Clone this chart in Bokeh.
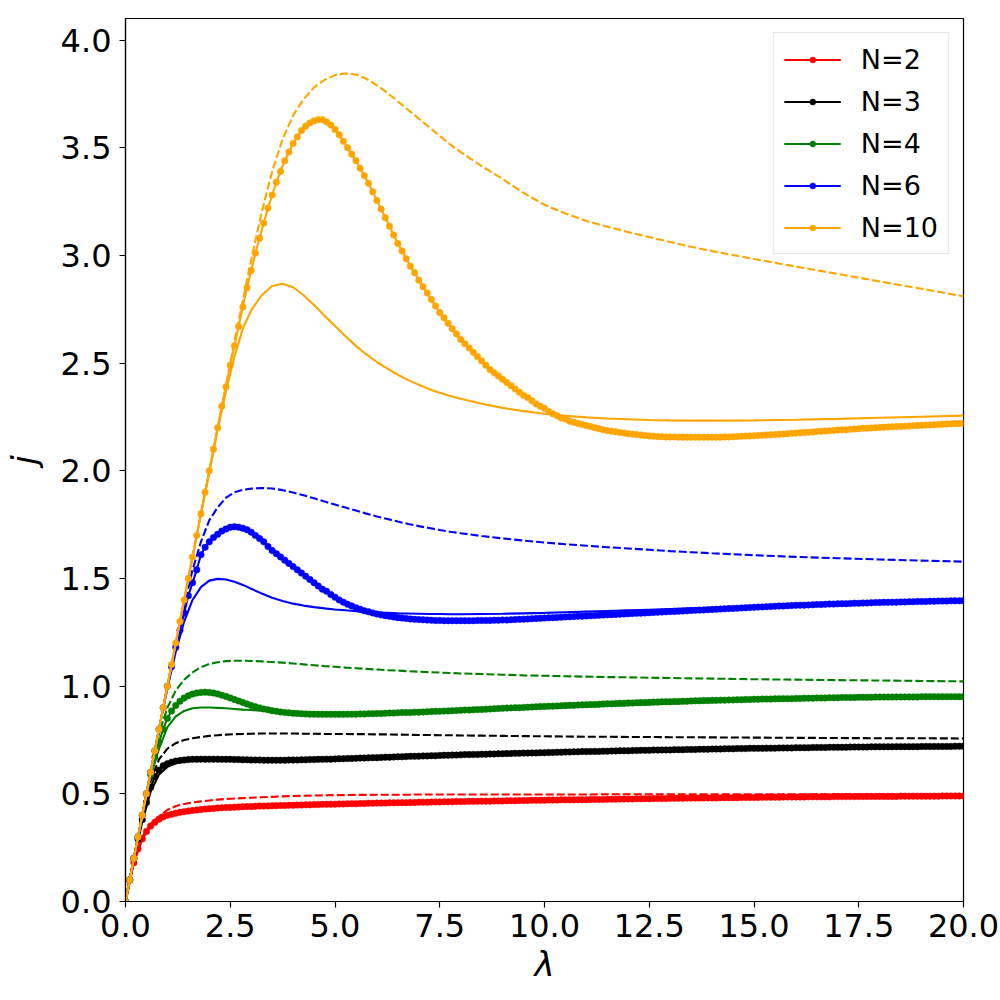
import numpy as np
from bokeh.plotting import figure
from bokeh.models import Range1d, FixedTicker, Legend, LegendItem, PrintfTickFormatter
from bokeh.embed import file_html
from bokeh.resources import INLINE

# ---------------- data ----------------
# sampled points (markers), lambda = 0.0 .. 20.0 step 0.1
LAM_PTS = [round(i * 0.1, 1) for i in range(201)]

J_PTS_N2 = [
    0.00, 0.10, 0.18, 0.245, 0.29, 0.325, 0.35, 0.368, 0.382, 0.393,
    0.40, 0.405, 0.41, 0.414, 0.417, 0.42, 0.423, 0.425, 0.427, 0.429,
    0.431, 0.432, 0.434, 0.435, 0.436, 0.437, 0.438, 0.439, 0.44, 0.441,
    0.441, 0.442, 0.443, 0.443, 0.444, 0.445, 0.445, 0.446, 0.446, 0.447,
    0.447, 0.448, 0.448, 0.449, 0.449, 0.45, 0.45, 0.451, 0.451, 0.452,
    0.452, 0.453, 0.453, 0.454, 0.454, 0.454, 0.455, 0.455, 0.456, 0.456,
    0.457, 0.457, 0.457, 0.458, 0.458, 0.459, 0.459, 0.459, 0.46, 0.46,
    0.461, 0.461, 0.461, 0.462, 0.462, 0.462, 0.463, 0.463, 0.463, 0.464,
    0.464, 0.464, 0.465, 0.465, 0.465, 0.466, 0.466, 0.466, 0.467, 0.467,
    0.467, 0.468, 0.468, 0.468, 0.469, 0.469, 0.469, 0.47, 0.47, 0.47,
    0.47, 0.471, 0.471, 0.471, 0.472, 0.472, 0.472, 0.472, 0.473, 0.473,
    0.473, 0.474, 0.474, 0.474, 0.474, 0.475, 0.475, 0.475, 0.476, 0.476,
    0.476, 0.476, 0.477, 0.477, 0.477, 0.477, 0.478, 0.478, 0.478, 0.478,
    0.479, 0.479, 0.479, 0.479, 0.48, 0.48, 0.48, 0.48, 0.481, 0.481,
    0.481, 0.481, 0.482, 0.482, 0.482, 0.482, 0.482, 0.483, 0.483, 0.483,
    0.483, 0.483, 0.484, 0.484, 0.484, 0.484, 0.484, 0.485, 0.485, 0.485,
    0.485, 0.485, 0.485, 0.486, 0.486, 0.486, 0.486, 0.486, 0.486, 0.487,
    0.487, 0.487, 0.487, 0.487, 0.487, 0.487, 0.488, 0.488, 0.488, 0.488,
    0.488, 0.488, 0.488, 0.488, 0.488, 0.489, 0.489, 0.489, 0.489, 0.489,
    0.489, 0.489, 0.489, 0.489, 0.489, 0.49, 0.49, 0.49, 0.49, 0.49,
    0.49,
]

J_PTS_N3 = [
    0.00, 0.10, 0.20, 0.29, 0.38, 0.46, 0.53, 0.58, 0.61, 0.63,
    0.64, 0.647, 0.652, 0.655, 0.657, 0.659, 0.66, 0.66, 0.661, 0.661,
    0.661, 0.661, 0.661, 0.66, 0.66, 0.66, 0.659, 0.659, 0.658, 0.658,
    0.657, 0.657, 0.657, 0.656, 0.656, 0.656, 0.656, 0.656, 0.656, 0.657,
    0.657, 0.657, 0.658, 0.658, 0.659, 0.659, 0.66, 0.66, 0.661, 0.661,
    0.662, 0.663, 0.663, 0.664, 0.664, 0.665, 0.666, 0.666, 0.667, 0.668,
    0.668, 0.669, 0.67, 0.67, 0.671, 0.672, 0.672, 0.673, 0.674, 0.674,
    0.675, 0.676, 0.676, 0.677, 0.677, 0.678, 0.679, 0.679, 0.68, 0.68,
    0.681, 0.682, 0.682, 0.683, 0.683, 0.684, 0.684, 0.685, 0.685, 0.686,
    0.686, 0.687, 0.687, 0.688, 0.688, 0.689, 0.689, 0.69, 0.69, 0.691,
    0.691, 0.692, 0.692, 0.693, 0.693, 0.694, 0.694, 0.695, 0.695, 0.696,
    0.696, 0.697, 0.697, 0.697, 0.698, 0.698, 0.699, 0.699, 0.7, 0.7,
    0.7, 0.701, 0.701, 0.702, 0.702, 0.702, 0.703, 0.703, 0.704, 0.704,
    0.704, 0.705, 0.705, 0.705, 0.706, 0.706, 0.706, 0.707, 0.707, 0.707,
    0.708, 0.708, 0.708, 0.709, 0.709, 0.709, 0.71, 0.71, 0.71, 0.711,
    0.711, 0.711, 0.711, 0.712, 0.712, 0.712, 0.713, 0.713, 0.713, 0.713,
    0.714, 0.714, 0.714, 0.714, 0.715, 0.715, 0.715, 0.715, 0.716, 0.716,
    0.716, 0.716, 0.716, 0.717, 0.717, 0.717, 0.717, 0.717, 0.718, 0.718,
    0.718, 0.718, 0.718, 0.718, 0.719, 0.719, 0.719, 0.719, 0.719, 0.719,
    0.72, 0.72, 0.72, 0.72, 0.72, 0.72, 0.72, 0.72, 0.721, 0.721,
    0.721,
]

J_PTS_N4 = [
    0.00, 0.10, 0.20, 0.30, 0.40, 0.50, 0.59, 0.67, 0.74, 0.80,
    0.85, 0.885, 0.91, 0.93, 0.945, 0.955, 0.963, 0.968, 0.971, 0.972,
    0.971, 0.968, 0.964, 0.958, 0.952, 0.945, 0.938, 0.931, 0.924, 0.917,
    0.91, 0.904, 0.899, 0.894, 0.89, 0.886, 0.883, 0.88, 0.878, 0.876,
    0.874, 0.873, 0.872, 0.871, 0.87, 0.87, 0.869, 0.869, 0.869, 0.869,
    0.869, 0.869, 0.869, 0.87, 0.87, 0.87, 0.871, 0.871, 0.872, 0.872,
    0.873, 0.873, 0.874, 0.875, 0.875, 0.876, 0.877, 0.877, 0.878, 0.879,
    0.879, 0.88, 0.881, 0.882, 0.883, 0.883, 0.884, 0.885, 0.886, 0.887,
    0.888, 0.889, 0.889, 0.89, 0.891, 0.892, 0.893, 0.894, 0.895, 0.896,
    0.897, 0.898, 0.899, 0.9, 0.9, 0.901, 0.902, 0.903, 0.904, 0.905,
    0.906, 0.907, 0.907, 0.908, 0.909, 0.91, 0.911, 0.911, 0.912, 0.913,
    0.914, 0.915, 0.915, 0.916, 0.917, 0.918, 0.918, 0.919, 0.92, 0.921,
    0.922, 0.922, 0.923, 0.924, 0.924, 0.925, 0.926, 0.926, 0.927, 0.928,
    0.928, 0.929, 0.929, 0.93, 0.93, 0.931, 0.932, 0.932, 0.933, 0.933,
    0.934, 0.934, 0.935, 0.935, 0.936, 0.936, 0.937, 0.937, 0.938, 0.938,
    0.939, 0.939, 0.94, 0.94, 0.94, 0.941, 0.941, 0.942, 0.942, 0.942,
    0.943, 0.943, 0.944, 0.944, 0.944, 0.945, 0.945, 0.945, 0.946, 0.946,
    0.946, 0.947, 0.947, 0.947, 0.947, 0.948, 0.948, 0.948, 0.948, 0.949,
    0.949, 0.949, 0.949, 0.949, 0.95, 0.95, 0.95, 0.95, 0.95, 0.95,
    0.951, 0.951, 0.951, 0.951, 0.951, 0.951, 0.951, 0.951, 0.951, 0.951,
    0.951,
]

J_PTS_N6 = [
    0.00, 0.10, 0.20, 0.30, 0.40, 0.50, 0.60, 0.70, 0.80, 0.90,
    1.00, 1.09, 1.18, 1.26, 1.34, 1.42, 1.48, 1.54, 1.61, 1.645,
    1.67, 1.69, 1.705, 1.72, 1.73, 1.738, 1.74, 1.738, 1.733, 1.726,
    1.715, 1.70, 1.685, 1.67, 1.648, 1.63, 1.615, 1.60, 1.585, 1.57,
    1.555, 1.54, 1.525, 1.51, 1.495, 1.48, 1.465, 1.45, 1.44, 1.425,
    1.413, 1.40, 1.39, 1.38, 1.372, 1.364, 1.357, 1.35, 1.345, 1.34,
    1.335, 1.331, 1.327, 1.324, 1.321, 1.318, 1.316, 1.314, 1.312, 1.31,
    1.309, 1.308, 1.307, 1.306, 1.305, 1.305, 1.304, 1.304, 1.304, 1.304,
    1.304, 1.304, 1.304, 1.304, 1.305, 1.305, 1.305, 1.305, 1.306, 1.306,
    1.307, 1.307, 1.308, 1.309, 1.31, 1.311, 1.312, 1.313, 1.314, 1.315,
    1.316, 1.317, 1.318, 1.319, 1.32, 1.321, 1.322, 1.323, 1.324, 1.325,
    1.326, 1.327, 1.328, 1.329, 1.33, 1.331, 1.332, 1.333, 1.334, 1.335,
    1.336, 1.337, 1.338, 1.339, 1.34, 1.341, 1.342, 1.343, 1.344, 1.345,
    1.346, 1.347, 1.348, 1.349, 1.35, 1.351, 1.352, 1.353, 1.354, 1.355,
    1.356, 1.357, 1.358, 1.359, 1.36, 1.361, 1.362, 1.363, 1.364, 1.365,
    1.366, 1.367, 1.368, 1.369, 1.37, 1.371, 1.372, 1.372, 1.373, 1.374,
    1.375, 1.376, 1.376, 1.377, 1.378, 1.379, 1.379, 1.38, 1.381, 1.381,
    1.382, 1.383, 1.383, 1.384, 1.385, 1.385, 1.386, 1.386, 1.387, 1.388,
    1.388, 1.389, 1.389, 1.39, 1.39, 1.391, 1.391, 1.392, 1.392, 1.393,
    1.393, 1.393, 1.394, 1.394, 1.395, 1.395, 1.395, 1.396, 1.396, 1.396,
    1.397,
]

J_PTS_N10 = [
    0.00, 0.10, 0.20, 0.30, 0.40, 0.50, 0.60, 0.70, 0.80, 0.90,
    1.00, 1.10, 1.20, 1.30, 1.40, 1.50, 1.60, 1.70, 1.80, 1.90,
    2.00, 2.10, 2.20, 2.30, 2.39, 2.49, 2.58, 2.67, 2.76, 2.85,
    2.93, 3.01, 3.08, 3.15, 3.22, 3.28, 3.34, 3.39, 3.44, 3.48,
    3.52, 3.55, 3.58, 3.60, 3.615, 3.625, 3.63, 3.63, 3.62, 3.605,
    3.585, 3.56, 3.53, 3.50, 3.47, 3.44, 3.405, 3.37, 3.335, 3.295,
    3.255, 3.215, 3.175, 3.135, 3.095, 3.055, 3.02, 2.985, 2.95, 2.92,
    2.885, 2.855, 2.825, 2.795, 2.765, 2.735, 2.71, 2.685, 2.66, 2.635,
    2.61, 2.59, 2.57, 2.55, 2.53, 2.51, 2.49, 2.47, 2.455, 2.44,
    2.425, 2.41, 2.395, 2.38, 2.365, 2.35, 2.34, 2.325, 2.31, 2.30,
    2.29, 2.275, 2.265, 2.255, 2.245, 2.24, 2.23, 2.225, 2.22, 2.215,
    2.21, 2.205, 2.20, 2.195, 2.19, 2.187, 2.184, 2.181, 2.178, 2.175,
    2.172, 2.17, 2.168, 2.166, 2.164, 2.162, 2.16, 2.159, 2.158, 2.157,
    2.157, 2.157, 2.156, 2.156, 2.156, 2.156, 2.156, 2.156, 2.156, 2.156,
    2.156, 2.156, 2.156, 2.157, 2.157, 2.158, 2.159, 2.16, 2.161, 2.162,
    2.163, 2.164, 2.165, 2.166, 2.167, 2.168, 2.17, 2.171, 2.172, 2.174,
    2.175, 2.176, 2.178, 2.179, 2.18, 2.182, 2.183, 2.185, 2.186, 2.187,
    2.189, 2.19, 2.191, 2.193, 2.194, 2.195, 2.197, 2.198, 2.199, 2.2,
    2.201, 2.202, 2.203, 2.204, 2.205, 2.206, 2.207, 2.208, 2.209, 2.21,
    2.211, 2.212, 2.213, 2.214, 2.215, 2.216, 2.217, 2.218, 2.219, 2.22,
    2.221,
]

# smooth curves (solid and dashed approximations), sampled in lambda
LAM_CURVE = [0, 0.2, 0.4, 0.6, 0.8, 1.0, 1.2, 1.4, 1.6, 1.8, 2.0, 2.2, 2.4, 2.6, 2.8, 3.0,
             3.25, 3.5, 3.75, 4.0, 4.25, 4.5, 4.75, 5.0, 5.25, 5.5, 5.75, 6.0, 6.25, 6.5,
             6.75, 7.0, 7.25, 7.5, 7.75, 8.0,
             8.5, 9.0, 9.5, 10, 10.5, 11, 11.5, 12, 12.5, 13, 13.5, 14,
             15, 16, 17, 18, 19, 20]

J_SOLID_N2 = [0, 0.18, 0.29, 0.35, 0.382, 0.40, 0.41, 0.417, 0.423, 0.427, 0.431, 0.434, 0.436, 0.438, 0.44, 0.441,
              0.443, 0.445, 0.446, 0.447, 0.448, 0.45, 0.451, 0.452, 0.453, 0.454, 0.455, 0.457, 0.458, 0.459,
              0.46, 0.461, 0.461, 0.462, 0.463, 0.464,
              0.466, 0.467, 0.469, 0.47, 0.472, 0.473, 0.475, 0.476, 0.478, 0.479, 0.48, 0.481,
              0.483, 0.485, 0.487, 0.488, 0.489, 0.49]
J_DASH_N2 = [0, 0.19, 0.30, 0.36, 0.395, 0.425, 0.443, 0.453, 0.46, 0.465, 0.469, 0.473, 0.476, 0.478, 0.48, 0.482,
             0.484, 0.486, 0.488, 0.49, 0.491, 0.492, 0.493, 0.494, 0.494, 0.495, 0.495, 0.496, 0.496, 0.496,
             0.496, 0.497, 0.497, 0.497, 0.497, 0.497,
             0.497, 0.497, 0.497, 0.497, 0.497, 0.497, 0.498, 0.498, 0.498, 0.498, 0.498, 0.498,
             0.498, 0.498, 0.498, 0.498, 0.498, 0.498]

J_SOLID_N3 = [0, 0.2, 0.37, 0.51, 0.59, 0.625, 0.642, 0.65, 0.654, 0.656, 0.657, 0.657, 0.657, 0.657, 0.657, 0.657,
              0.657, 0.657, 0.658, 0.658, 0.659, 0.66, 0.661, 0.662, 0.663, 0.665, 0.666, 0.668, 0.669, 0.671,
              0.672, 0.674, 0.675, 0.677, 0.678, 0.68,
              0.683, 0.686, 0.688, 0.691, 0.693, 0.696, 0.698, 0.70, 0.702, 0.704, 0.706, 0.708,
              0.711, 0.714, 0.716, 0.718, 0.72, 0.722]
J_DASH_N3 = [0, 0.2, 0.39, 0.56, 0.66, 0.71, 0.735, 0.75, 0.758, 0.764, 0.769, 0.772, 0.775, 0.777, 0.778, 0.779,
             0.78, 0.78, 0.78, 0.78, 0.779, 0.779, 0.778, 0.778, 0.778, 0.777, 0.777, 0.776, 0.776, 0.775,
             0.774, 0.773, 0.773, 0.772, 0.772, 0.771,
             0.77, 0.769, 0.768, 0.767, 0.766, 0.765, 0.765, 0.764, 0.764, 0.763, 0.763, 0.762,
             0.761, 0.76, 0.759, 0.758, 0.758, 0.757]

J_SOLID_N4 = [0, 0.2, 0.4, 0.58, 0.71, 0.81, 0.86, 0.885, 0.897, 0.901, 0.901, 0.899, 0.897, 0.894, 0.891, 0.889,
              0.886, 0.883, 0.881, 0.879, 0.878, 0.877, 0.876, 0.876, 0.876, 0.876, 0.876, 0.877, 0.877, 0.878,
              0.879, 0.88, 0.881, 0.882, 0.883, 0.885,
              0.888, 0.891, 0.894, 0.898, 0.901, 0.905, 0.908, 0.912, 0.915, 0.919, 0.922, 0.925,
              0.931, 0.936, 0.94, 0.944, 0.947, 0.95]
J_DASH_N4 = [0, 0.2, 0.4, 0.6, 0.78, 0.90, 0.98, 1.03, 1.064, 1.088, 1.103, 1.111, 1.116, 1.118, 1.118, 1.117,
             1.115, 1.112, 1.109, 1.105, 1.101, 1.097, 1.093, 1.09, 1.086, 1.083, 1.08, 1.077, 1.074, 1.072,
             1.069, 1.067, 1.065, 1.063, 1.061, 1.059,
             1.056, 1.053, 1.05, 1.048, 1.046, 1.044, 1.042, 1.041, 1.039, 1.038, 1.036, 1.035,
             1.032, 1.03, 1.028, 1.026, 1.024, 1.022]

J_SOLID_N6 = [0, 0.2, 0.4, 0.6, 0.8, 0.99, 1.16, 1.30, 1.40, 1.46, 1.49, 1.498, 1.495, 1.485, 1.47, 1.452,
              1.43, 1.41, 1.395, 1.383, 1.374, 1.367, 1.361, 1.356, 1.352, 1.348, 1.345, 1.342, 1.34, 1.338,
              1.337, 1.336, 1.335, 1.335, 1.334, 1.334,
              1.335, 1.336, 1.338, 1.34, 1.343, 1.346, 1.349, 1.352, 1.355, 1.358, 1.361, 1.364,
              1.37, 1.376, 1.382, 1.388, 1.393, 1.398]
J_DASH_N6 = [0, 0.2, 0.4, 0.6, 0.8, 1.0, 1.19, 1.37, 1.54, 1.67, 1.77, 1.83, 1.875, 1.90, 1.912, 1.917,
             1.92, 1.918, 1.91, 1.899, 1.886, 1.872, 1.857, 1.843, 1.829, 1.815, 1.801, 1.788, 1.776, 1.764,
             1.753, 1.743, 1.734, 1.725, 1.717, 1.71,
             1.697, 1.686, 1.676, 1.667, 1.659, 1.652, 1.645, 1.639, 1.633, 1.627, 1.622, 1.617,
             1.608, 1.60, 1.594, 1.588, 1.583, 1.578]

J_SOLID_N10 = [0, 0.2, 0.4, 0.6, 0.8, 1.0, 1.2, 1.4, 1.6, 1.8, 1.99, 2.19, 2.37, 2.53, 2.66, 2.745,
               2.815, 2.858, 2.868, 2.852, 2.815, 2.77, 2.72, 2.672, 2.625, 2.58, 2.54, 2.505, 2.474, 2.446,
               2.421, 2.399, 2.379, 2.362, 2.347, 2.334,
               2.311, 2.292, 2.277, 2.265, 2.255, 2.248, 2.243, 2.239, 2.236, 2.234, 2.233, 2.233,
               2.234, 2.237, 2.241, 2.246, 2.251, 2.256]
J_DASH_N10 = [0, 0.2, 0.4, 0.6, 0.8, 1.0, 1.2, 1.4, 1.6, 1.8, 2.0, 2.2, 2.4, 2.6, 2.79, 2.98,
              3.2, 3.39, 3.54, 3.65, 3.725, 3.78, 3.815, 3.837, 3.845, 3.84, 3.82, 3.79, 3.755, 3.715,
              3.675, 3.635, 3.595, 3.555, 3.515, 3.48,
              3.415, 3.355, 3.29, 3.235, 3.195, 3.16, 3.133, 3.108, 3.085, 3.062, 3.04, 3.02,
              2.983, 2.948, 2.914, 2.879, 2.845, 2.81]

SERIES_LABELS = ["N=2", "N=3", "N=4", "N=6", "N=10"]
SERIES_COLORS = ["#ff0000", "#000000", "#008000", "#0000ff", "#ffa500"]
PTS = [J_PTS_N2, J_PTS_N3, J_PTS_N4, J_PTS_N6, J_PTS_N10]
SOLID = [J_SOLID_N2, J_SOLID_N3, J_SOLID_N4, J_SOLID_N6, J_SOLID_N10]
DASH = [J_DASH_N2, J_DASH_N3, J_DASH_N4, J_DASH_N6, J_DASH_N10]

X_TICKS = [0, 2.5, 5, 7.5, 10, 12.5, 15, 17.5, 20]
Y_TICKS = [0, 0.5, 1.0, 1.5, 2.0, 2.5, 3.0, 3.5, 4.0]

for arr in PTS:
    assert len(arr) == len(LAM_PTS)
for arr in SOLID + DASH:
    assert len(arr) == len(LAM_CURVE), len(arr)

# ---------------- figure ----------------
FONT = "DejaVu Sans"
p = figure(width=1000, height=1000, output_backend="svg", toolbar_location=None,
           x_range=Range1d(0, 20), y_range=Range1d(0, 4.1),
           min_border_left=124, min_border_right=37, min_border_top=18,
           min_border_bottom=99)
p.background_fill_color = "white"
p.border_fill_color = "white"
p.outline_line_color = "black"
p.outline_line_width = 1.2
p.xgrid.visible = False
p.ygrid.visible = False

for ax, ticks in ((p.xaxis[0], X_TICKS), (p.yaxis[0], Y_TICKS)):
    ax.ticker = FixedTicker(ticks=ticks)
    ax.formatter = PrintfTickFormatter(format="%.1f")
    ax.major_tick_out = 6
    ax.major_tick_in = 0
    ax.minor_tick_line_color = None
    ax.major_tick_line_width = 1.2
    ax.axis_line_width = 1.2
    ax.major_label_text_font = FONT
    ax.major_label_text_font_size = "32px"
    ax.major_label_text_color = "black"
    ax.axis_label_text_font = FONT
    ax.axis_label_text_font_size = "34px"
    ax.axis_label_text_font_style = "italic"
    ax.axis_label_text_color = "black"

p.xaxis[0].axis_label = "λ"
p.yaxis[0].axis_label = "j"
p.xaxis[0].major_label_standoff = 6
p.xaxis[0].axis_label_standoff = 4
p.yaxis[0].major_label_standoff = 8
p.yaxis[0].axis_label_standoff = 14

items = []
for lab, col, pts, sol, das in zip(SERIES_LABELS, SERIES_COLORS, PTS, SOLID, DASH):
    lr = p.line(LAM_PTS, pts, line_color=col, line_width=2.1)
    sr = p.scatter(LAM_PTS, pts, size=6.5, fill_color=col, line_color=col, line_width=0.5)
    p.line(LAM_CURVE, sol, line_color=col, line_width=2.1)
    p.line(LAM_CURVE, das, line_color=col, line_width=2.1, line_dash="8 3")
    items.append(LegendItem(label=lab, renderers=[lr, sr]))

legend = Legend(items=items, location="top_right")
legend.margin = 14
legend.padding = 10
legend.spacing = 10
legend.glyph_width = 57
legend.glyph_height = 15
legend.label_height = 32
legend.label_standoff = 20
legend.label_text_font = FONT
legend.label_text_font_size = "27px"
legend.label_text_color = "black"
legend.border_line_color = "#cccccc"
legend.border_line_width = 1
legend.background_fill_alpha = 0.8
p.add_layout(legend)

open("out.html", "w").write(file_html(p, INLINE))
